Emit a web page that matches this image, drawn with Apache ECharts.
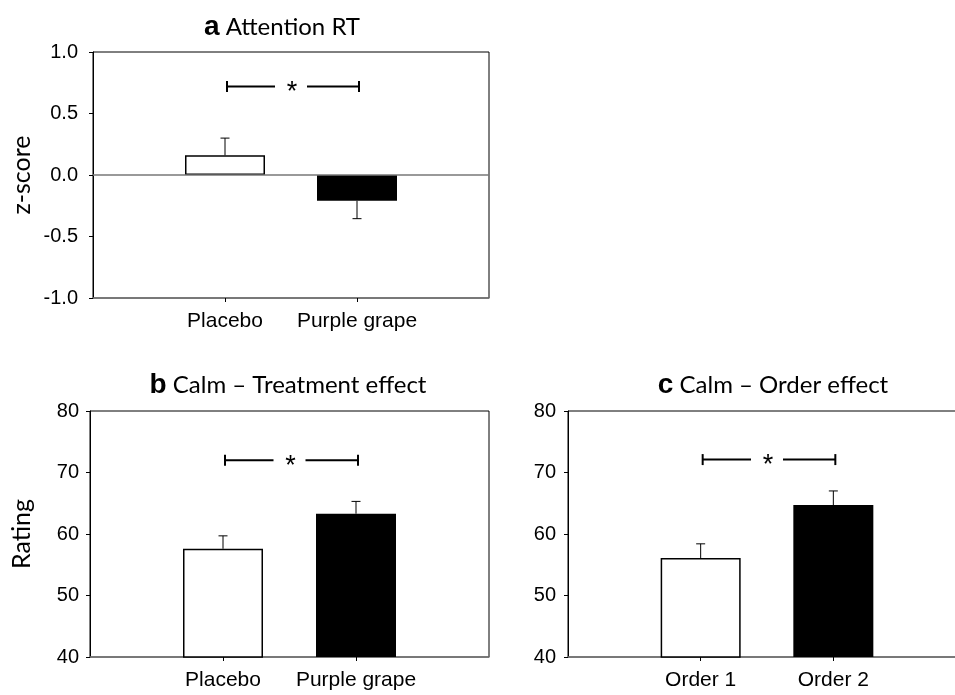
<!DOCTYPE html>
<html>
<head>
<meta charset="utf-8">
<script src="https://cdn.jsdelivr.net/npm/echarts@6/dist/echarts.min.js"></script>
<style>
  html, body { margin: 0; padding: 0; background: #fff; }
  #chart { width: 955px; height: 695px; }
</style>
</head>
<body>
<div id="chart"></div>
<script>
// categories
const catsTreatment = ['Placebo', 'Purple grape'];
const catsOrder = ['Order 1', 'Order 2'];

// a: Attention RT (z-score), mean and SEM
const attnMean = [0.16, -0.21];
const attnErr = [0.14, 0.145];
// b: Calm - treatment effect
const calmTreatMean = [57.6, 63.3];
const calmTreatErr = [2.1, 2.0];
// c: Calm - order effect
const calmOrderMean = [56.1, 64.7];
const calmOrderErr = [2.3, 2.3];
// height of the "*" bracket in each panel
const sigLevel = [0.72, 72.0, 72.1];

// y axis ranges [min, max, step]
const zRange = [-1, 1, 0.5];
const ratingRange = [40, 80, 10];

const myChart = echarts.init(document.getElementById('chart'));

const arial = 'Liberation Sans, Arial, sans-serif';
const calibri = 'Lato, sans-serif';

// empty slots at both ends so the two bars sit at 1/3 and 2/3
const pad = c => ['', ...c, ''];
const onlyBars = idx => idx > 0 && idx < 3;

function barData(vals) {
  return vals.map((v, i) => ({
    value: [i + 1, v],
    itemStyle: i === 0
      ? { color: '#fff', borderColor: '#000', borderWidth: 1.5 }
      : { color: '#000', borderColor: '#000', borderWidth: 0 }
  }));
}

function errData(vals, errs) {
  return vals.map((v, i) => [i + 1, v, errs[i]]);
}

function renderErr(params, api) {
  const x = api.value(0), m = api.value(1), e = api.value(2);
  const end = m >= 0 ? m + e : m - e;
  const p0 = api.coord([x, m]);
  const p1 = api.coord([x, end]);
  const st = { stroke: '#000', lineWidth: 1 };
  return {
    type: 'group',
    children: [
      { type: 'line', shape: { x1: p0[0], y1: p0[1], x2: p1[0], y2: p1[1] }, style: st },
      { type: 'line', shape: { x1: p1[0] - 4.5, y1: p1[1], x2: p1[0] + 4.5, y2: p1[1] }, style: st }
    ]
  };
}

function renderSig(params, api) {
  const y = api.value(2);
  const a = api.coord([api.value(0), y]);
  const b = api.coord([api.value(1), y]);
  const mid = (a[0] + b[0]) / 2;
  const gap = 16, cap = 5.5;
  const st = { stroke: '#000', lineWidth: 2 };
  return {
    type: 'group',
    children: [
      { type: 'line', shape: { x1: a[0] + 2, y1: a[1], x2: mid - gap, y2: a[1] }, style: st },
      { type: 'line', shape: { x1: mid + gap, y1: b[1], x2: b[0] + 2, y2: b[1] }, style: st },
      { type: 'line', shape: { x1: a[0] + 2, y1: a[1] - cap, x2: a[0] + 2, y2: a[1] + cap }, style: st },
      { type: 'line', shape: { x1: b[0] + 2, y1: b[1] - cap, x2: b[0] + 2, y2: b[1] + cap }, style: st },
      {
        type: 'text',
        x: mid + 1, y: a[1] + 6,
        style: { text: '*', fill: '#000', fontSize: 27, fontFamily: arial, align: 'center', verticalAlign: 'middle' }
      }
    ]
  };
}

function makeX(idx, cats) {
  return {
    gridIndex: idx,
    type: 'category',
    data: pad(cats),
    boundaryGap: false,
    axisLine: { onZero: false, lineStyle: { color: '#777', width: 1.5 } },
    axisTick: { interval: onlyBars, length: 4, lineStyle: { color: '#000' } },
    axisLabel: { interval: onlyBars, color: '#000', fontSize: 21, fontFamily: arial, margin: 13 },
    splitLine: { show: false }
  };
}

function makeY(idx, range, name, gap, margin, fmt) {
  return {
    gridIndex: idx,
    type: 'value',
    min: range[0], max: range[1], interval: range[2],
    axisLine: { show: true, lineStyle: { color: '#000', width: 1 } },
    axisTick: { show: true, length: 4, lineStyle: { color: '#000' } },
    splitLine: { show: false },
    axisLabel: { color: '#000', fontSize: 20, fontFamily: arial, margin: margin, formatter: fmt },
    name: name,
    nameLocation: 'middle',
    nameGap: gap,
    nameTextStyle: { color: '#000', fontSize: 25, fontFamily: calibri }
  };
}

function panelSeries(idx, means, errs, level, zeroLine) {
  const bar = {
    type: 'bar',
    xAxisIndex: idx, yAxisIndex: idx,
    barWidth: 80,
    data: barData(means),
    silent: true
  };
  if (zeroLine) {
    bar.markLine = {
      silent: true, symbol: 'none', label: { show: false },
      lineStyle: { color: '#777', width: 1.5, type: 'solid' },
      data: [{ yAxis: 0 }]
    };
  }
  return [
    bar,
    {
      type: 'custom', xAxisIndex: idx, yAxisIndex: idx,
      renderItem: renderErr, data: errData(means, errs),
      encode: { x: 0, y: [1, 2] }, silent: true, z: 3
    },
    {
      type: 'custom', xAxisIndex: idx, yAxisIndex: idx,
      renderItem: renderSig, data: [[1, 2, level]],
      encode: { x: [0, 1], y: 2 }, silent: true, z: 3
    }
  ];
}

const gridBase = {
  show: true, borderColor: '#000', borderWidth: 1, backgroundColor: 'transparent',
  containLabel: false, outerBoundsMode: 'none'
};

function title(x, y, letter, text) {
  return {
    type: 'text', x: x, y: y,
    style: {
      text: '{k|' + letter + '} ' + text,
      fill: '#000', fontSize: 24, fontFamily: calibri,
      align: 'center', verticalAlign: 'middle',
      rich: { k: { fontSize: 28, fontWeight: 'bold', fontFamily: arial, fill: '#000' } }
    }
  };
}

const option = {
  animation: false,
  backgroundColor: '#fff',
  grid: [
    Object.assign({ left: 93, top: 52, width: 396, height: 246 }, gridBase),
    Object.assign({ left: 90, top: 411, width: 399, height: 246 }, gridBase),
    Object.assign({ left: 568, top: 411, width: 398, height: 246 }, gridBase)
  ],
  xAxis: [
    makeX(0, catsTreatment),
    makeX(1, catsTreatment),
    makeX(2, catsOrder)
  ],
  yAxis: [
    makeY(0, zRange, 'z-score', 59, 15, v => v.toFixed(1)),
    makeY(1, ratingRange, 'Rating', 56, 11, v => String(v)),
    makeY(2, ratingRange, '', 0, 12, v => String(v))
  ],
  series: [
    ...panelSeries(0, attnMean, attnErr, sigLevel[0], true),
    ...panelSeries(1, calmTreatMean, calmTreatErr, sigLevel[1], false),
    ...panelSeries(2, calmOrderMean, calmOrderErr, sigLevel[2], false)
  ],
  graphic: [
    title(282, 27, 'a', 'Attention RT'),
    title(288, 385, 'b', 'Calm – Treatment effect'),
    title(773, 385, 'c', 'Calm – Order effect')
  ]
};

myChart.setOption(option);
</script>
</body>
</html>
